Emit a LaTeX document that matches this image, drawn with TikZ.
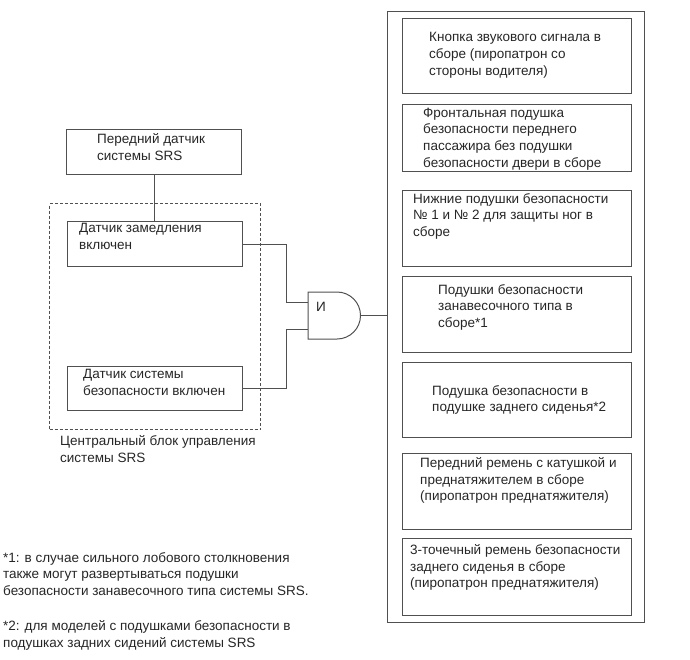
\documentclass[tikz,border=0pt]{standalone}
\usepackage{fontspec}
\setmainfont{Liberation Sans}
\definecolor{linec}{HTML}{505050}
\definecolor{ink}{HTML}{262626}
\tikzset{
  box/.style={draw=linec, line width=1pt, anchor=north west, inner sep=0pt},
  rbox/.style={box, minimum width=229pt},
  txt/.style={anchor=north west, inner sep=0pt, align=left, text=ink,
    font=\fontsize{13.5}{16.8}\selectfont},
  conn/.style={draw=linec, line width=1pt}
}
\begin{document}
\begin{tikzpicture}[x=1pt, y=-1pt]
  \useasboundingbox (0,0) rectangle (690,659);
  % left side
  \node[box, minimum width=175pt, minimum height=45pt] (front) at (66,129) {};
  \node[box, dash pattern=on 3pt off 2pt, minimum width=211pt, minimum height=226pt] (ecu) at (49,203) {};
  \node[box, minimum width=175pt, minimum height=45pt] (zam) at (67,221) {};
  \node[box, minimum width=175pt, minimum height=44pt] (bez) at (67,366) {};
  \node[txt] (front-t) at (97,133) {Передний датчик\\системы SRS};
  \node[txt] (zam-t) at (79,223) {Датчик замедления\\включен};
  \node[txt] (bez-t) at (83,369) {Датчик системы\\безопасности включен};
  \node[txt] (ecu-t) at (60,435) {Центральный блок управления\\системы SRS};
  % AND gate
  \draw[conn] (308,292) -- (337,292) arc (-90:90:23.5) -- (308,339) -- cycle;
  \node[txt, anchor=center] (and-t) at (321,307) {И};
  \coordinate (and-a) at (308,302);
  \coordinate (and-b) at (308,329);
  \coordinate (and-out) at (360.5,315.5);
  \coordinate (knee) at (286,0);
  % right side
  \node[box, minimum width=257pt, minimum height=611pt] (outer) at (387,11) {};
  \node[rbox, minimum height=75pt] (r1) at (402,18) {};
  \node[rbox, minimum height=67pt] (r2) at (402,104) {};
  \node[rbox, minimum height=76pt] (r3) at (402,190) {};
  \node[rbox, minimum height=76pt] (r4) at (402,276) {};
  \node[rbox, minimum height=75pt] (r5) at (402,362) {};
  \node[rbox, minimum height=76pt] (r6) at (402,453) {};
  \node[rbox, minimum height=77pt] (r7) at (402,538) {};
  \node[txt] (r1-t) at (429,32) {Кнопка звукового сигнала в\\сборе (пиропатрон со\\стороны водителя)};
  \node[txt] (r2-t) at (423,107.5) {Фронтальная подушка\\безопасности переднего\\пассажира без подушки\\безопасности двери в сборе};
  \node[txt] (r3-t) at (413,193) {Нижние подушки безопасности\\№ 1 и № 2 для защиты ног в\\сборе};
  \node[txt] (r4-t) at (438,284) {Подушки безопасности\\занавесочного типа в\\сборе*1};
  \node[txt] (r5-t) at (432,385) {Подушка безопасности в\\подушке заднего сиденья*2};
  \node[txt] (r6-t) at (420,457) {Передний ремень с катушкой и\\преднатяжителем в сборе\\(пиропатрон преднатяжителя)};
  \node[txt] (r7-t) at (410,544) {3-точечный ремень безопасности\\заднего сиденья в сборе\\(пиропатрон преднатяжителя)};
  % notes
  \node[txt] (note1) at (3,552) {*1: в случае сильного лобового столкновения\\также могут развертываться подушки\\безопасности занавесочного типа системы SRS.};
  \node[txt] (note2) at (3,620) {*2: для моделей с подушками безопасности в\\подушках задних сидений системы SRS};
  % wires
  \draw[conn] (front.south) -- (front.south |- zam.north);
  \draw[conn] (zam.east) -| (knee |- and-a) -- (and-a);
  \draw[conn] (bez.east) -| (knee |- and-b) -- (and-b);
  \draw[conn] (and-out) -- (and-out -| outer.west);
\end{tikzpicture}
\end{document}
